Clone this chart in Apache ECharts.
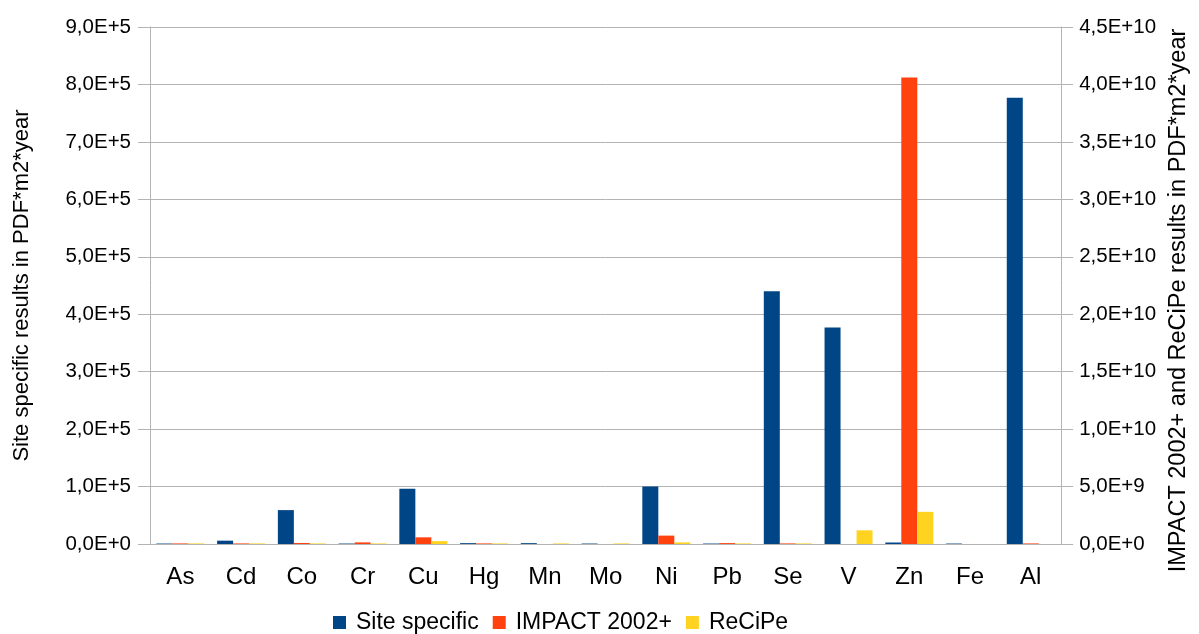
<!DOCTYPE html>
<html><head><meta charset="utf-8">
<script src="https://cdn.jsdelivr.net/npm/echarts@6/dist/echarts.min.js"></script>
<style>html,body{margin:0;padding:0;background:#fff;overflow:hidden}#c{width:1199px;height:634px}</style>
</head><body><div id="c"></div>
<script>
var categories = ['As','Cd','Co','Cr','Cu','Hg','Mn','Mo','Ni','Pb','Se','V','Zn','Fe','Al'];
var siteSpecific = [800, 5800, 59000, 800, 96000, 1500, 1500, 800, 100000, 800, 440000, 377000, 2600, 800, 777000];
var impact2002 = [5e7, 5e7, 9e7, 1.4e8, 5.8e8, 5e7, 0, 0, 7.3e8, 8e7, 5e7, 0, 4.06e10, 0, 5e7];
var recipe = [5e7, 5e7, 5e7, 5e7, 2.5e8, 5e7, 5e7, 5e7, 1.4e8, 5e7, 5e7, 1.19e9, 2.8e9, 0, 0];
var seriesNames = ['Site specific', 'IMPACT 2002+', 'ReCiPe'];
var leftAxisName = 'Site specific results in PDF*m2*year';
var rightAxisName = 'IMPACT 2002+ and ReCiPe results in PDF*m2*year';

function fmt(v){ return v.toExponential(1).replace('.', ',').replace('e', 'E'); }
var font = 'Liberation Sans, Arial, sans-serif';
var gray = '#b3b3b3';
var chart = echarts.init(document.getElementById('c'), null, {width: 1199, height: 634});
chart.setOption({
  animation: false,
  textStyle: {fontFamily: font},
  grid: {left: 150, right: 137, top: 27, bottom: 90},
  legend: {
    top: 606, left: 328, itemWidth: 13, itemHeight: 13, itemGap: 14,
    icon: 'rect',
    textStyle: {fontSize: 23, color: '#000', fontFamily: font, padding: [0, 0, 0, 5]},
    data: seriesNames
  },
  xAxis: {
    type: 'category', data: categories,
    axisLine: {lineStyle: {color: gray}},
    axisTick: {length: 10, lineStyle: {color: gray}},
    axisLabel: {fontSize: 24, color: '#000', margin: 21, fontFamily: font}
  },
  yAxis: [{
    type: 'value', min: 0, max: 900000, interval: 100000,
    name: leftAxisName, nameLocation: 'middle', nameGap: 117,
    nameTextStyle: {fontSize: 22, color: '#000', fontFamily: font},
    axisLine: {show: true, lineStyle: {color: gray}},
    axisTick: {show: true, length: 12, lineStyle: {color: gray}},
    axisLabel: {formatter: fmt, fontSize: 20.5, color: '#000', margin: 19, fontFamily: font},
    splitLine: {lineStyle: {color: gray}}
  }, {
    type: 'value', min: 0, max: 45000000000, interval: 5000000000,
    name: rightAxisName, nameLocation: 'middle', nameGap: 96,
    nameTextStyle: {fontSize: 23.5, color: '#000', fontFamily: font, padding: [0, 30, 0, 0]},
    axisLine: {show: true, lineStyle: {color: gray}},
    axisTick: {show: true, length: 12, lineStyle: {color: gray}},
    axisLabel: {formatter: fmt, fontSize: 20.5, color: '#000', margin: 18, fontFamily: font},
    splitLine: {show: false}
  }],
  series: [
    {name: seriesNames[0], type: 'bar', yAxisIndex: 0, data: siteSpecific, barWidth: 16, barGap: '0%', itemStyle: {color: '#004586'}},
    {name: seriesNames[1], type: 'bar', yAxisIndex: 1, data: impact2002, barWidth: 16, barGap: '0%', itemStyle: {color: '#ff420e'}},
    {name: seriesNames[2], type: 'bar', yAxisIndex: 1, data: recipe, barWidth: 16, barGap: '0%', itemStyle: {color: '#ffd320'}}
  ]
});
</script></body></html>
